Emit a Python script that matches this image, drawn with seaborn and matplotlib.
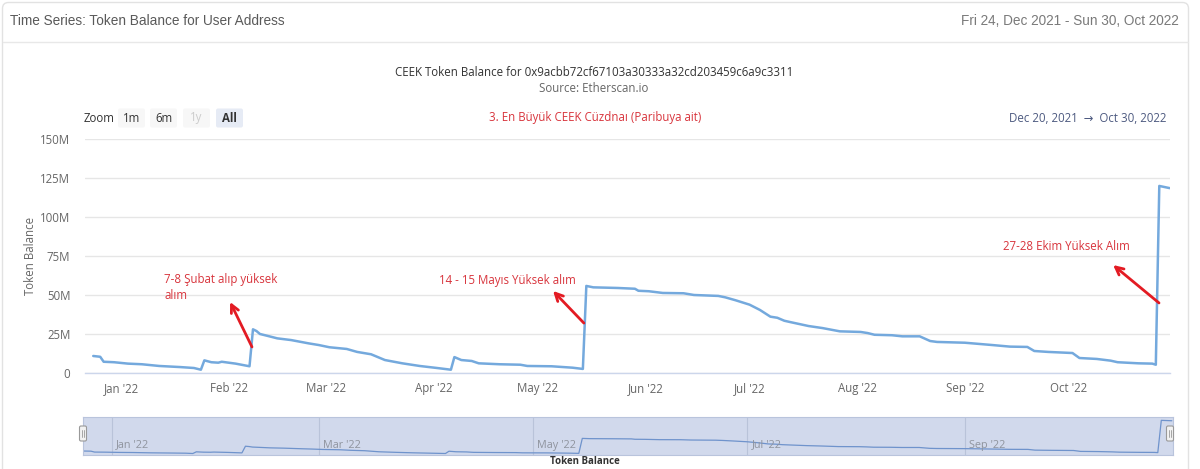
import numpy as np
import pandas as pd
import matplotlib
matplotlib.use("Agg")
import matplotlib.pyplot as plt
import matplotlib.dates as mdates
from matplotlib.patches import FancyBboxPatch
from matplotlib.ticker import FuncFormatter, FixedLocator
import seaborn as sns

# ---------------- data ----------------
dates = [
    "2021-12-24", "2021-12-26", "2021-12-27", "2021-12-30", "2022-01-03", "2022-01-07",
    "2022-01-12", "2022-01-18", "2022-01-22", "2022-01-24", "2022-01-25", "2022-01-27",
    "2022-01-29", "2022-01-30", "2022-02-03", "2022-02-07", "2022-02-08", "2022-02-09",
    "2022-02-10", "2022-02-12", "2022-02-15", "2022-02-19", "2022-02-24", "2022-02-27",
    "2022-03-02", "2022-03-07", "2022-03-10", "2022-03-14", "2022-03-18", "2022-03-23",
    "2022-03-28", "2022-04-02", "2022-04-06", "2022-04-07", "2022-04-09", "2022-04-12",
    "2022-04-14", "2022-04-20", "2022-04-26", "2022-04-28", "2022-05-05", "2022-05-11",
    "2022-05-14", "2022-05-15", "2022-05-17", "2022-05-24", "2022-05-29", "2022-05-30",
    "2022-06-02", "2022-06-06", "2022-06-12", "2022-06-15", "2022-06-22", "2022-06-24",
    "2022-06-27", "2022-07-01", "2022-07-04", "2022-07-07", "2022-07-09", "2022-07-11",
    "2022-07-13", "2022-07-18", "2022-07-22", "2022-07-27", "2022-08-02", "2022-08-04",
    "2022-08-06", "2022-08-11", "2022-08-14", "2022-08-19", "2022-08-22", "2022-08-24",
    "2022-09-01", "2022-09-09", "2022-09-14", "2022-09-19", "2022-09-21", "2022-09-25",
    "2022-10-02", "2022-10-04", "2022-10-09", "2022-10-13", "2022-10-15", "2022-10-21",
    "2022-10-25", "2022-10-26", "2022-10-27", "2022-10-30",
]
balance_m = [
    11.1, 10.6, 7.4, 7.1, 6.2, 5.8,
    4.7, 4.0, 3.4, 2.3, 8.3, 7.1,
    6.8, 7.4, 6.2, 4.5, 28.2, 27.1,
    25.2, 24.1, 22.4, 21.3, 19.2, 18.1,
    16.7, 15.6, 13.7, 12.2, 8.5, 6.4,
    4.7, 3.4, 2.3, 10.4, 8.5, 7.9,
    6.4, 5.8, 5.5, 4.7, 4.5, 3.6,
    2.8, 56.0, 55.1, 54.7, 54.2, 52.9,
    52.6, 51.5, 51.3, 50.2, 49.6, 48.7,
    46.8, 44.0, 40.6, 36.3, 35.6, 33.7,
    32.7, 30.3, 29.0, 26.9, 26.5, 25.8,
    24.7, 24.4, 23.7, 23.7, 20.7, 20.1,
    19.6, 18.1, 17.1, 16.9, 14.3, 13.7,
    13.0, 9.8, 9.2, 8.1, 7.1, 6.4,
    6.2, 5.5, 120.1, 118.7,
]
y_ticks_m = [0, 25, 50, 75, 100, 125, 150]
nav_label_months = ["2022-01-01", "2022-03-01", "2022-05-01", "2022-07-01", "2022-09-01"]

header_title = "Time Series: Token Balance for User Address"
header_range = "Fri 24, Dec 2021 - Sun 30, Oct 2022"
chart_title = "CEEK Token Balance for 0x9acbb72cf67103a30333a32cd203459c6a9c3311"
chart_subtitle = "Source: Etherscan.io"
note_title = "3. En Büyük CEEK Cüzdnaı (Paribuya ait)"
range_text = "Dec 20, 2021  \u2192  Oct 30, 2022"
zoom_buttons = ["1m", "6m", "1y", "All"]
y_label = "Token Balance"

note_texts = ["7-8 Şubat alıp yüksek\nalım", "14 - 15 Mayıs Yüksek alım", "27-28 Ekim Yüksek Alım"]
note_text_pos = [("2022-01-13 10:00", 55.3), ("2022-04-02 14:00", 59.8), ("2022-09-12 00:00", 81.0)]
arrow_tails = [("2022-02-07 17:00", 16.9), ("2022-05-14 07:00", 32.2), ("2022-10-26 22:00", 45.1)]
arrow_heads = [("2022-02-01 10:00", 45.7), ("2022-05-05 10:00", 52.8), ("2022-10-13 17:00", 69.4)]

df = pd.DataFrame({"date": pd.to_datetime(dates), "balance": balance_m})

# ---------------- style ----------------
sns.set_style("white")
plt.rcParams["font.family"] = ["Open Sans", "DejaVu Sans"]

W, H = 1200, 469
fig = plt.figure(figsize=(W / 100, H / 100), dpi=100)
fig.patch.set_facecolor("white")

# background axes in pixel coordinates (y from top)
bg = fig.add_axes([0, 0, 1, 1], zorder=0)
bg.set_xlim(0, W)
bg.set_ylim(H, 0)
bg.axis("off")

card = FancyBboxPatch((2.5, 2.5), 1186, 490, boxstyle="round,pad=0,rounding_size=6",
                      fc="white", ec="#e2e2e2", lw=1)
bg.add_patch(card)
bg.plot([3, 1188], [42, 42], color="#e8e8e8", lw=1)

hdr_font = ["Liberation Sans", "DejaVu Sans"]
bg.text(10, 21, header_title, fontsize=9.8, color="#5a5a5a", family=hdr_font, va="center", ha="left")
bg.text(1179, 21, header_range, fontsize=9.8, color="#7a7a7a", family=hdr_font, va="center", ha="right")

bg.text(594, 72, chart_title, fontsize=8.3, color="#333333", ha="center", va="center")
bg.text(594, 88, chart_subtitle, fontsize=8.3, color="#666666", ha="center", va="center")
bg.text(595, 118, note_title, fontsize=8.3, color="#d8343c", ha="center", va="center")

# range selector
bg.text(84, 118, "Zoom", fontsize=8.3, color="#333333", ha="left", va="center")
btn_x = [118, 150, 183, 216]
for label, bx in zip(zoom_buttons, btn_x):
    active = label == "All"
    fc = "#e6ebf5" if active else "#f7f7f7"
    bg.add_patch(FancyBboxPatch((bx, 108.5), 27, 19, boxstyle="round,pad=0,rounding_size=2",
                                fc=fc, ec="none"))
    col = "#cccccc" if label == "1y" else "#333333"
    bg.text(bx + 13.5, 118, label, fontsize=8.3, color=col, ha="center", va="center",
            fontweight="bold" if active else "normal")
bg.text(1166, 118, range_text, fontsize=8.3, color="#4d5a80", ha="right", va="center",
        family=["Open Sans", "DejaVu Sans"])

bg.text(30, 256, y_label, fontsize=8.3, color="#666666", rotation=90, ha="center", va="center")

# ---------------- main chart ----------------
x0, x1, ytop, ybot = 85, 1170, 139.3, 373.3
ax = fig.add_axes([x0 / W, 1 - ybot / H, (x1 - x0) / W, (ybot - ytop) / H], zorder=1)
ax.patch.set_alpha(0)
sns.lineplot(data=df, x="date", y="balance", ax=ax, color="#74a9dd", lw=1.8)
ax.set_xlim(pd.Timestamp("2021-12-21 15:00"), pd.Timestamp("2022-10-30 02:00"))
ax.set_ylim(0, 150)
ax.yaxis.set_major_locator(FixedLocator(y_ticks_m))
ax.yaxis.set_major_formatter(FuncFormatter(lambda v, p: "0" if v == 0 else f"{v:g}M"))
ax.xaxis.set_major_locator(mdates.MonthLocator(bymonthday=1))
ax.xaxis.set_major_formatter(mdates.DateFormatter("%b '%y"))
ax.grid(axis="y", color="#e6e6e6", lw=1)
ax.grid(axis="x", visible=False)
for s in ["top", "right", "left"]:
    ax.spines[s].set_visible(False)
ax.spines["bottom"].set_color("#ccd6eb")
ax.spines["bottom"].set_linewidth(1)
ax.tick_params(axis="y", length=0, pad=10.5, labelsize=8.3, labelcolor="#666666")
ax.tick_params(axis="x", length=4.3, width=0.8, color="#ccd6eb", pad=2.0, labelsize=8.3,
               labelcolor="#666666")
ax.set_xlabel("")
ax.set_ylabel("")

red_txt = "#d8343c"
red_arrow = "#e31b23"
for txt, (tx, ty) in zip(note_texts, note_text_pos):
    ax.text(pd.Timestamp(tx), ty, txt, fontsize=8.3, color=red_txt, ha="left", va="center",
            linespacing=1.3)
for (tx, ty), (hx, hy) in zip(arrow_tails, arrow_heads):
    ax.annotate("", xy=(pd.Timestamp(hx), hy), xytext=(pd.Timestamp(tx), ty),
                arrowprops=dict(arrowstyle="->", color=red_arrow, lw=2.0, mutation_scale=14,
                                shrinkA=0, shrinkB=0))

# ---------------- navigator ----------------
nx0, nx1, ntop, nbot = 83, 1173, 417, 455
nav = fig.add_axes([nx0 / W, 1 - nbot / H, (nx1 - nx0) / W, (nbot - ntop) / H], zorder=1)
nav.set_facecolor("#d1d9ec")
sns.lineplot(data=df, x="date", y="balance", ax=nav, color="#6f93cc", lw=0.9)
nav.set_xlim(pd.Timestamp("2021-12-23 17:00"), pd.Timestamp("2022-10-30 08:00"))
nav.set_ylim(-3, 132)
nav.set_xticks([])
nav.set_yticks([])
nav.set_xlabel("")
nav.set_ylabel("")
for s in nav.spines.values():
    s.set_color("#b9c4dc")
    s.set_linewidth(0.8)
for m in nav_label_months:
    t = pd.Timestamp(m)
    nav.axvline(t, color="#b9c3d9", lw=0.8, zorder=0.5)
    nav.text(t + pd.Timedelta(days=1.2), 0.26, t.strftime("%b '%y"), fontsize=7.8,
             color="#8f949e", ha="left", va="center",
             transform=nav.get_xaxis_transform())

# overlay for navigator handles and legend
ov = fig.add_axes([0, 0, 1, 1], zorder=2)
ov.set_xlim(0, W)
ov.set_ylim(H, 0)
ov.axis("off")
for hx in (nx0, nx1 - 3):
    ov.add_patch(FancyBboxPatch((hx - 3.5, 426), 7, 15, boxstyle="round,pad=0,rounding_size=1.5",
                                fc="#f2f2f2", ec="#999999", lw=0.8))
    ov.plot([hx - 1, hx - 1], [430, 437], color="#999999", lw=0.6)
    ov.plot([hx + 1, hx + 1], [430, 437], color="#999999", lw=0.6)
ov.text(585, 467.5, y_label, fontsize=7, color="#333333", ha="center", va="bottom",
        fontweight="bold")

fig.savefig("out.png", dpi=100, facecolor="white")
